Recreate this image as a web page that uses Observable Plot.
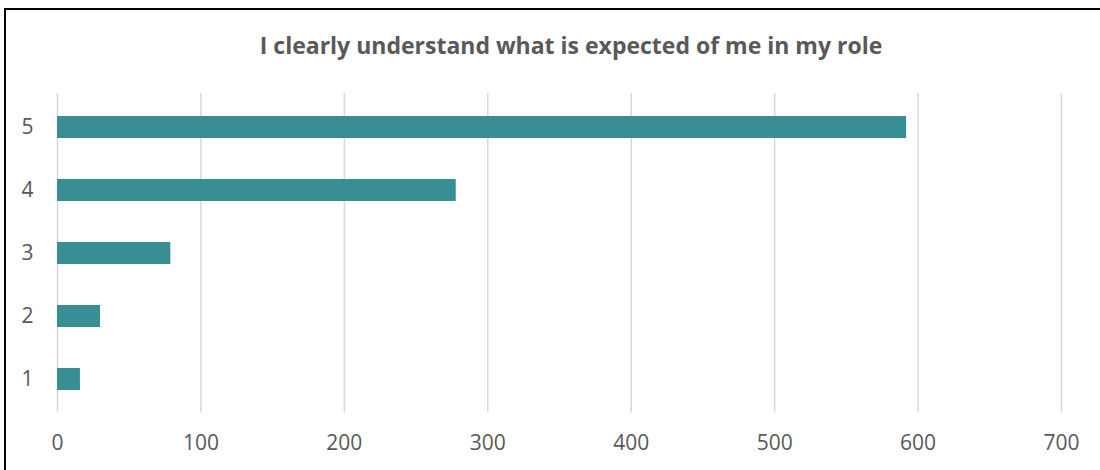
<!DOCTYPE html>
<html><head><meta charset="utf-8">
<script src="https://cdn.jsdelivr.net/npm/d3@7"></script>
<script src="https://cdn.jsdelivr.net/npm/@observablehq/plot@0.6"></script>
<style>
body{margin:0;background:#fff;}
#wrap{position:relative;width:1100px;height:470px;overflow:hidden;font-family:"Open Sans",sans-serif;background:#fff;}
#frame{position:absolute;left:4px;top:8px;width:1200px;height:600px;border-left:2px solid #000;border-top:2px solid #000;}
#title{position:absolute;top:30px;left:0;width:1142px;text-align:center;font-size:23px;font-weight:bold;color:#595959;line-height:30px;white-space:nowrap;}
#chart{position:absolute;left:0;top:75px;}
</style></head>
<body>
<div id="wrap">
  <div id="frame"></div>
  <div id="title">I clearly understand what is expected of me in my role</div>
  <div id="chart"></div>
</div>
<script>
const categories = ["5", "4", "3", "2", "1"];
const counts = [592, 278, 79, 30, 16];
const xTicks = [0, 100, 200, 300, 400, 500, 600, 700];

const data = categories.map((c, i) => ({category: c, count: counts[i]}));

const chart = Plot.plot({
  width: 1100,
  height: 395,
  marginTop: 18,
  marginBottom: 57.5,
  marginLeft: 57,
  marginRight: 39,
  style: {fontSize: "21px", color: "#595959", fontFamily: '"Open Sans", sans-serif', background: "transparent"},
  x: {domain: [0, 700]},
  y: {domain: categories, paddingInner: 0.65, paddingOuter: 0.325},
  marks: [
    Plot.gridX(xTicks, {stroke: "#d9d9d9", strokeOpacity: 1, strokeWidth: 1.5}),
    Plot.barX(data, {x: "count", y: "category", fill: "#388e92"}),
    Plot.axisX(xTicks, {tickSize: 0, tickPadding: 22, fontSize: 21, fill: "#595959", label: null}),
    Plot.axisY(categories, {tickSize: 0, tickPadding: 24, fontSize: 21, fill: "#595959", label: null})
  ]
});
document.getElementById("chart").appendChild(chart);
</script>
</body></html>
